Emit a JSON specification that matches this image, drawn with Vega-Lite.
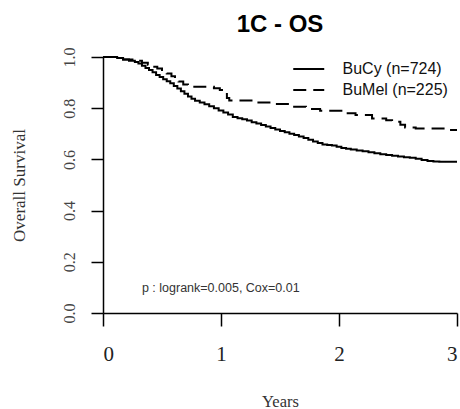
{
  "$schema": "https://vega.github.io/schema/vega-lite/v6.json",
  "width": 354,
  "height": 256,
  "autosize": {"type": "none"},
  "padding": {"left": 103, "top": 57, "right": 3, "bottom": 96},
  "background": "white",
  "title": {
    "text": "1C - OS",
    "font": "Liberation Sans",
    "fontSize": 24,
    "fontWeight": "bold",
    "color": "black",
    "anchor": "middle",
    "offset": 10.5
  },
  "config": {
    "view": {"stroke": null},
    "axis": {"grid": false}
  },
  "datasets": {
    "km": [
      {"group": "BuCy (n=724)", "years": 0, "survival": 1.0},
      {"group": "BuCy (n=724)", "years": 0.12, "survival": 0.996},
      {"group": "BuCy (n=724)", "years": 0.17, "survival": 0.99},
      {"group": "BuCy (n=724)", "years": 0.22, "survival": 0.985},
      {"group": "BuCy (n=724)", "years": 0.27, "survival": 0.98},
      {"group": "BuCy (n=724)", "years": 0.30, "survival": 0.975},
      {"group": "BuCy (n=724)", "years": 0.33, "survival": 0.966},
      {"group": "BuCy (n=724)", "years": 0.36, "survival": 0.957},
      {"group": "BuCy (n=724)", "years": 0.39, "survival": 0.949},
      {"group": "BuCy (n=724)", "years": 0.42, "survival": 0.94},
      {"group": "BuCy (n=724)", "years": 0.45, "survival": 0.93},
      {"group": "BuCy (n=724)", "years": 0.48, "survival": 0.922},
      {"group": "BuCy (n=724)", "years": 0.51, "survival": 0.913},
      {"group": "BuCy (n=724)", "years": 0.54, "survival": 0.905},
      {"group": "BuCy (n=724)", "years": 0.57, "survival": 0.897},
      {"group": "BuCy (n=724)", "years": 0.60, "survival": 0.887},
      {"group": "BuCy (n=724)", "years": 0.63, "survival": 0.877},
      {"group": "BuCy (n=724)", "years": 0.66, "survival": 0.866},
      {"group": "BuCy (n=724)", "years": 0.69, "survival": 0.856},
      {"group": "BuCy (n=724)", "years": 0.72, "survival": 0.846},
      {"group": "BuCy (n=724)", "years": 0.75, "survival": 0.837},
      {"group": "BuCy (n=724)", "years": 0.78, "survival": 0.829},
      {"group": "BuCy (n=724)", "years": 0.82, "survival": 0.822},
      {"group": "BuCy (n=724)", "years": 0.86, "survival": 0.815},
      {"group": "BuCy (n=724)", "years": 0.90, "survival": 0.808},
      {"group": "BuCy (n=724)", "years": 0.94, "survival": 0.8},
      {"group": "BuCy (n=724)", "years": 0.98, "survival": 0.791},
      {"group": "BuCy (n=724)", "years": 1.02, "survival": 0.783},
      {"group": "BuCy (n=724)", "years": 1.06, "survival": 0.775},
      {"group": "BuCy (n=724)", "years": 1.10, "survival": 0.766},
      {"group": "BuCy (n=724)", "years": 1.14, "survival": 0.761},
      {"group": "BuCy (n=724)", "years": 1.18, "survival": 0.757},
      {"group": "BuCy (n=724)", "years": 1.22, "survival": 0.752},
      {"group": "BuCy (n=724)", "years": 1.26, "survival": 0.745},
      {"group": "BuCy (n=724)", "years": 1.30, "survival": 0.74},
      {"group": "BuCy (n=724)", "years": 1.34, "survival": 0.734},
      {"group": "BuCy (n=724)", "years": 1.38, "survival": 0.729},
      {"group": "BuCy (n=724)", "years": 1.42, "survival": 0.723},
      {"group": "BuCy (n=724)", "years": 1.46, "survival": 0.717},
      {"group": "BuCy (n=724)", "years": 1.50, "survival": 0.711},
      {"group": "BuCy (n=724)", "years": 1.54, "survival": 0.706},
      {"group": "BuCy (n=724)", "years": 1.58, "survival": 0.7},
      {"group": "BuCy (n=724)", "years": 1.62, "survival": 0.695},
      {"group": "BuCy (n=724)", "years": 1.66, "survival": 0.689},
      {"group": "BuCy (n=724)", "years": 1.70, "survival": 0.684},
      {"group": "BuCy (n=724)", "years": 1.74, "survival": 0.677},
      {"group": "BuCy (n=724)", "years": 1.78, "survival": 0.67},
      {"group": "BuCy (n=724)", "years": 1.82, "survival": 0.664},
      {"group": "BuCy (n=724)", "years": 1.86, "survival": 0.658},
      {"group": "BuCy (n=724)", "years": 1.90, "survival": 0.656},
      {"group": "BuCy (n=724)", "years": 1.94, "survival": 0.654},
      {"group": "BuCy (n=724)", "years": 1.98, "survival": 0.649},
      {"group": "BuCy (n=724)", "years": 2.02, "survival": 0.645},
      {"group": "BuCy (n=724)", "years": 2.06, "survival": 0.642},
      {"group": "BuCy (n=724)", "years": 2.10, "survival": 0.639},
      {"group": "BuCy (n=724)", "years": 2.15, "survival": 0.635},
      {"group": "BuCy (n=724)", "years": 2.20, "survival": 0.632},
      {"group": "BuCy (n=724)", "years": 2.25, "survival": 0.628},
      {"group": "BuCy (n=724)", "years": 2.30, "survival": 0.624},
      {"group": "BuCy (n=724)", "years": 2.35, "survival": 0.62},
      {"group": "BuCy (n=724)", "years": 2.40, "survival": 0.617},
      {"group": "BuCy (n=724)", "years": 2.45, "survival": 0.614},
      {"group": "BuCy (n=724)", "years": 2.50, "survival": 0.611},
      {"group": "BuCy (n=724)", "years": 2.55, "survival": 0.608},
      {"group": "BuCy (n=724)", "years": 2.60, "survival": 0.606},
      {"group": "BuCy (n=724)", "years": 2.65, "survival": 0.603},
      {"group": "BuCy (n=724)", "years": 2.70, "survival": 0.598},
      {"group": "BuCy (n=724)", "years": 2.75, "survival": 0.594},
      {"group": "BuCy (n=724)", "years": 2.80, "survival": 0.592},
      {"group": "BuCy (n=724)", "years": 2.85, "survival": 0.591},
      {"group": "BuCy (n=724)", "years": 3.0, "survival": 0.591},
      {"group": "BuMel (n=225)", "years": 0, "survival": 1.0},
      {"group": "BuMel (n=225)", "years": 0.12, "survival": 0.996},
      {"group": "BuMel (n=225)", "years": 0.17, "survival": 0.99},
      {"group": "BuMel (n=225)", "years": 0.27, "survival": 0.985},
      {"group": "BuMel (n=225)", "years": 0.33, "survival": 0.978},
      {"group": "BuMel (n=225)", "years": 0.38, "survival": 0.97},
      {"group": "BuMel (n=225)", "years": 0.42, "survival": 0.962},
      {"group": "BuMel (n=225)", "years": 0.46, "survival": 0.955},
      {"group": "BuMel (n=225)", "years": 0.50, "survival": 0.945},
      {"group": "BuMel (n=225)", "years": 0.54, "survival": 0.936},
      {"group": "BuMel (n=225)", "years": 0.58, "survival": 0.925},
      {"group": "BuMel (n=225)", "years": 0.61, "survival": 0.914},
      {"group": "BuMel (n=225)", "years": 0.64, "survival": 0.904},
      {"group": "BuMel (n=225)", "years": 0.68, "survival": 0.893},
      {"group": "BuMel (n=225)", "years": 0.72, "survival": 0.884},
      {"group": "BuMel (n=225)", "years": 0.94, "survival": 0.878},
      {"group": "BuMel (n=225)", "years": 0.99, "survival": 0.871},
      {"group": "BuMel (n=225)", "years": 1.02, "survival": 0.855},
      {"group": "BuMel (n=225)", "years": 1.05, "survival": 0.84},
      {"group": "BuMel (n=225)", "years": 1.07, "survival": 0.83},
      {"group": "BuMel (n=225)", "years": 1.30, "survival": 0.822},
      {"group": "BuMel (n=225)", "years": 1.45, "survival": 0.816},
      {"group": "BuMel (n=225)", "years": 1.62, "survival": 0.806},
      {"group": "BuMel (n=225)", "years": 1.72, "survival": 0.797},
      {"group": "BuMel (n=225)", "years": 1.84, "survival": 0.79},
      {"group": "BuMel (n=225)", "years": 2.02, "survival": 0.78},
      {"group": "BuMel (n=225)", "years": 2.14, "survival": 0.773},
      {"group": "BuMel (n=225)", "years": 2.28, "survival": 0.76},
      {"group": "BuMel (n=225)", "years": 2.40, "survival": 0.753},
      {"group": "BuMel (n=225)", "years": 2.45, "survival": 0.747},
      {"group": "BuMel (n=225)", "years": 2.52, "survival": 0.735},
      {"group": "BuMel (n=225)", "years": 2.56, "survival": 0.725},
      {"group": "BuMel (n=225)", "years": 2.65, "survival": 0.721},
      {"group": "BuMel (n=225)", "years": 2.93, "survival": 0.715},
      {"group": "BuMel (n=225)", "years": 3.0, "survival": 0.715}
    ],
    "note": [
      {"years": 0.33, "survival": 0.098, "label": "p : logrank=0.005, Cox=0.01"}
    ]
  },
  "layer": [
    {
      "data": {"name": "km"},
      "mark": {"type": "line", "interpolate": "step-after", "strokeWidth": 2, "color": "black", "clip": false},
      "encoding": {
        "x": {
          "field": "years",
          "type": "quantitative",
          "scale": {"domain": [0, 3], "nice": false, "zero": false},
          "axis": {
            "values": [0, 1, 2, 3],
            "format": "d",
            "domainColor": "black",
            "domainWidth": 1.5,
            "tickColor": "black",
            "tickWidth": 1.5,
            "tickSize": 13,
            "labelFont": "Liberation Serif",
            "labelFontSize": 21,
            "labelColor": "#222",
            "labelPadding": 34,
            "labelBaseline": "alphabetic",
            "title": "Years",
            "titleFont": "Liberation Serif",
            "titleFontSize": 16.5,
            "titleFontWeight": "normal",
            "titleColor": "#333",
            "titleX": 177,
            "titleY": 88,
            "titleAlign": "center",
            "titleBaseline": "middle"
          }
        },
        "y": {
          "field": "survival",
          "type": "quantitative",
          "scale": {"domain": [0, 1], "nice": false},
          "axis": {
            "values": [0, 0.2, 0.4, 0.6, 0.8, 1.0],
            "format": ".1f",
            "domainColor": "black",
            "domainWidth": 1.5,
            "tickColor": "black",
            "tickWidth": 1.5,
            "tickSize": 12,
            "labelFont": "Liberation Serif",
            "labelFontSize": 16,
            "labelColor": "#444",
            "labelAngle": -90,
            "labelAlign": "center",
            "labelBaseline": "bottom",
            "labelPadding": 14,
            "title": "Overall Survival",
            "titleFont": "Liberation Serif",
            "titleFontSize": 17,
            "titleFontWeight": "normal",
            "titleColor": "#333",
            "titleAngle": -90,
            "titleX": -84,
            "titleY": 128,
            "titleAlign": "center",
            "titleBaseline": "middle"
          }
        },
        "strokeDash": {
          "field": "group",
          "type": "nominal",
          "scale": {"domain": ["BuCy (n=724)", "BuMel (n=225)"], "range": [[1, 0], [13, 7]]},
          "legend": {
            "orient": "none",
            "legendX": 196.75,
            "legendY": 3,
            "title": null,
            "padding": 0,
            "symbolType": "M-2,0H2",
            "symbolSize": 240,
            "symbolStrokeWidth": 2,
            "symbolStrokeColor": "black",
            "symbolFillColor": "transparent",
            "labelFont": "Liberation Sans",
            "labelFontSize": 16,
            "labelColor": "#111",
            "labelOffset": 24.75,
            "rowPadding": 4
          }
        }
      }
    },
    {
      "data": {"name": "note"},
      "mark": {"type": "text", "align": "left", "baseline": "middle", "font": "Liberation Sans", "fontSize": 12.5, "color": "#333"},
      "encoding": {
        "x": {"field": "years", "type": "quantitative"},
        "y": {"field": "survival", "type": "quantitative"},
        "text": {"field": "label"}
      }
    }
  ]
}
